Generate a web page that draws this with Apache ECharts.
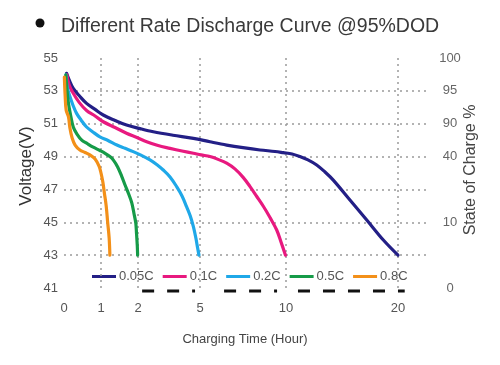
<!DOCTYPE html>
<html><head><meta charset="utf-8">
<script src="https://cdn.jsdelivr.net/npm/echarts@6/dist/echarts.min.js"></script>
<style>html,body{margin:0;padding:0;background:#fff}#c{width:500px;height:365px}</style>
</head><body><div id="c"></div>
<script>
// Tick labels (hours) on the non-linear time axis and right-axis SOC labels
const hourTicks = [0, 1, 2, 5, 10, 20];
const voltTicks = [41, 43, 45, 47, 49, 51, 53, 55];
const socLabels = ['0', '', '10', '', '40', '90', '95', '100'];
const seriesNames = ['0.05C', '0.1C', '0.2C', '0.5C', '0.8C'];

// Discharge curves: [hours, volts]
const c005 = [[0.07,54.07],[0.14,53.66],[0.25,53.15],[0.43,52.66],[0.61,52.24],[0.84,51.87],[1.06,51.53],[1.38,51.2],[1.69,50.92],[2.1,50.7],[2.74,50.51],[3.69,50.3],[4.68,50.11],[5.58,49.9],[6.55,49.7],[7.5,49.54],[8.49,49.4],[9.36,49.31],[9.84,49.24],[10.54,49.16],[11.25,49.0],[11.96,48.8],[12.74,48.49],[13.48,48.06],[14.22,47.57],[15.71,46.36],[17.21,45.14],[18.69,43.92],[20,43.0]];
const c01 = [[0.08,53.97],[0.14,53.36],[0.25,52.85],[0.41,52.3],[0.61,51.8],[0.84,51.47],[1.06,51.12],[1.38,50.77],[1.69,50.42],[1.97,50.16],[2.42,49.9],[2.97,49.67],[3.55,49.5],[4.13,49.34],[4.68,49.2],[5.06,49.1],[5.58,49.0],[6.05,48.83],[6.55,48.6],[7.03,48.25],[7.52,47.72],[7.91,47.17],[8.3,46.57],[8.69,45.96],[9.07,45.29],[9.46,44.53],[9.71,43.8],[9.97,43.0]];
const c02 = [[0.05,53.97],[0.09,53.2],[0.16,52.65],[0.24,52.14],[0.34,51.63],[0.46,51.23],[0.61,50.8],[0.78,50.5],[0.97,50.2],[1.19,49.98],[1.43,49.7],[1.65,49.5],[1.87,49.3],[2.17,49.07],[2.58,48.8],[2.92,48.5],[3.22,48.18],[3.55,47.76],[3.87,47.17],[4.13,46.6],[4.35,45.95],[4.53,45.38],[4.68,44.73],[4.8,44.04],[4.89,43.4],[4.95,43.0]];
const c05 = [[0.05,53.97],[0.08,53.05],[0.12,52.24],[0.18,51.5],[0.25,50.8],[0.35,50.37],[0.48,50.0],[0.62,49.8],[0.79,49.57],[0.97,49.37],[1.11,49.2],[1.24,49.0],[1.33,48.8],[1.45,48.37],[1.56,47.8],[1.65,47.27],[1.74,46.77],[1.83,46.2],[1.89,45.55],[1.94,44.96],[1.96,44.33],[1.98,43.6],[1.99,43.0]];
const c08 = [[0.01,53.83],[0.03,52.75],[0.06,51.8],[0.12,51.43],[0.16,50.74],[0.22,50.13],[0.3,49.7],[0.43,49.4],[0.57,49.25],[0.7,49.1],[0.84,48.85],[0.95,48.4],[1.0,48.0],[1.05,47.45],[1.09,46.8],[1.14,46.0],[1.18,45.0],[1.22,44.05],[1.24,43.0]];
// black dashed range marks under the legend: [startHour, endHour]
const rangeMarks = [[2.2, 4.76], [6.4, 9.48], [11.07, 20.6]];
const rangeLevel = 40.82;

// non-linear axis scale (hours -> axis units), piecewise linear between ticks
const tickUnits = [0, 37, 74, 136, 222, 334];
const axisMaxUnit = 364;
function xs(h) {
  for (let i = 1; i < hourTicks.length; i++) {
    if (h <= hourTicks[i] || i === hourTicks.length - 1) {
      const a = hourTicks[i-1], b = hourTicks[i];
      return tickUnits[i-1] + (h - a) / (b - a) * (tickUnits[i] - tickUnits[i-1]);
    }
  }
}
const colors = ['#231f86', '#e8197f', '#1fa8e8', '#169b48', '#f39019'];
const curves = [c005, c01, c02, c05, c08];
const FONT = 'Liberation Sans, Arial, sans-serif';
const grid = { type: [2, 4], color: '#9a9a9a', width: 1.5 };

const series = curves.map((c, i) => ({
  name: seriesNames[i], type: 'line', smooth: 0.35, symbol: 'none',
  data: c.map(p => [xs(p[0]), p[1]]),
  lineStyle: { color: colors[i], width: 3.2, cap: 'round', join: 'round' }, itemStyle: { color: colors[i] }, z: 5
}));
series.unshift({
  type: 'line', data: [], silent: true, z: 1,
  markLine: {
    silent: true, symbol: 'none', label: { show: false },
    lineStyle: grid,
    data: hourTicks.slice(1).map(h => ({ xAxis: xs(h) }))
      .concat(voltTicks.slice(1, -1).map(v => ({ yAxis: v })))
  }
});
rangeMarks.forEach(r => series.push({
  type: 'line', symbol: 'none', silent: true, clip: false, z: 4,
  data: [[xs(r[0]), rangeLevel], [xs(r[1]), rangeLevel]],
  lineStyle: { color: '#111', width: 3, type: [12, 13] }
}));

const chart = echarts.init(document.getElementById('c'), null, { renderer: 'canvas' });
chart.setOption({
  animation: false,
  title: { text: 'Different Rate Discharge Curve @95%DOD', left: 56, top: 12,
    textStyle: { fontFamily: FONT, fontSize: 19.5, fontWeight: 'normal', color: '#3a3a3a' } },
  graphic: [
    { type: 'circle', shape: { cx: 40, cy: 23, r: 4.5 }, style: { fill: '#111' } },
    { type: 'text', x: 26, y: 166, rotation: Math.PI / 2,
      style: { text: 'Voltage(V)', font: '17px ' + FONT, fill: '#333', align: 'center', verticalAlign: 'middle' } },
    { type: 'text', x: 471, y: 170, rotation: Math.PI / 2,
      style: { text: 'State of Charge %', font: '16px ' + FONT, fill: '#444', align: 'center', verticalAlign: 'middle' } },
    { type: 'text', x: 245, y: 339,
      style: { text: 'Charging Time (Hour)', font: '13px ' + FONT, fill: '#444', align: 'center', verticalAlign: 'middle' } }
  ],
  legend: { left: 92, top: 270, padding: 0, icon: 'rect', itemWidth: 24, itemHeight: 3, itemGap: 9,
    data: seriesNames, textStyle: { fontFamily: FONT, fontSize: 13, color: '#555', padding: [0, 0, 0, -2] } },
  grid: { left: 64, right: 72, top: 58, bottom: 77 },
  xAxis: { type: 'value', min: 0, max: axisMaxUnit,
    axisLine: { show: false }, axisTick: { show: false }, splitLine: { show: false },
    axisLabel: { customValues: hourTicks.map(xs), margin: 14, fontFamily: FONT, fontSize: 13, color: '#555',
      formatter: v => { const i = tickUnits.indexOf(Math.round(v)); return i >= 0 ? String(hourTicks[i]) : ''; } } },
  yAxis: [
    { type: 'value', min: 41, max: 55, interval: 2,
      axisLine: { show: false }, axisTick: { show: false }, splitLine: { show: false },
      axisLabel: { margin: 6, fontFamily: FONT, fontSize: 13, color: '#555' } },
    { type: 'value', min: 41, max: 55, interval: 2, position: 'right',
      axisLine: { show: false }, axisTick: { show: false }, splitLine: { show: false },
      axisLabel: { margin: 22, align: 'center', fontFamily: FONT, fontSize: 13, color: '#666',
        formatter: v => socLabels[voltTicks.indexOf(v)] || '' } }
  ],
  series: series
});
</script></body></html>
